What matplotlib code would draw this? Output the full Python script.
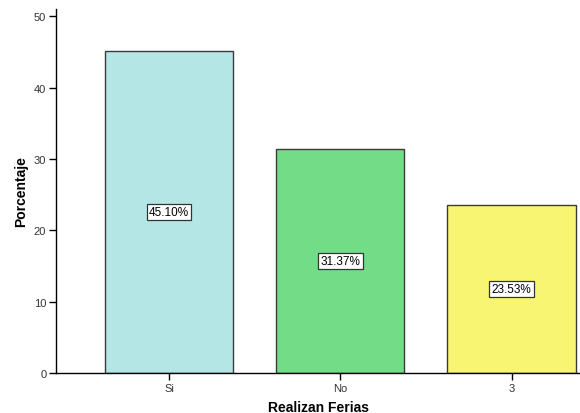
import matplotlib.pyplot as plt
import numpy as np

categorias = ['Si', 'No', '3']
porcentajes = [45.10, 31.37, 23.53]
colores = ['#b5e6e6', '#72dc86', '#f8f573']

plt.rcParams['font.family'] = ['Liberation Sans', 'DejaVu Sans']

fig = plt.figure(figsize=(5.8, 4.14), dpi=100)
ax = fig.add_axes([0.0966, 0.0966, 0.9034, 0.879])

x = np.arange(len(categorias))
ax.bar(x, porcentajes, width=0.75, color=colores, edgecolor='#3a3a3a', linewidth=1)

for xi, v in zip(x, porcentajes):
    ax.text(xi, v / 2, '%.2f%%' % v, ha='center', va='center', fontsize=8.5,
            bbox=dict(boxstyle='square,pad=0.2', facecolor='white', edgecolor='#333333', linewidth=0.9))

ax.set_xlim(-0.66, 2.40)
ax.set_ylim(0, 51)
ax.set_yticks([0, 10, 20, 30, 40, 50])
ax.set_xticks(x)
ax.set_xticklabels(categorias)
ax.spines['right'].set_visible(False)
ax.spines['top'].set_visible(False)
ax.spines['left'].set_linewidth(1)
ax.spines['bottom'].set_linewidth(1)
ax.tick_params(direction='out', length=5, width=1, labelsize=8, labelcolor='#333333', pad=2)

ax.set_ylabel('Porcentaje', fontsize=10, fontweight='bold', labelpad=4)
ax.set_xlabel('Realizan Ferias', fontsize=10, fontweight='bold', labelpad=5)

plt.savefig('out.png', dpi=100)
